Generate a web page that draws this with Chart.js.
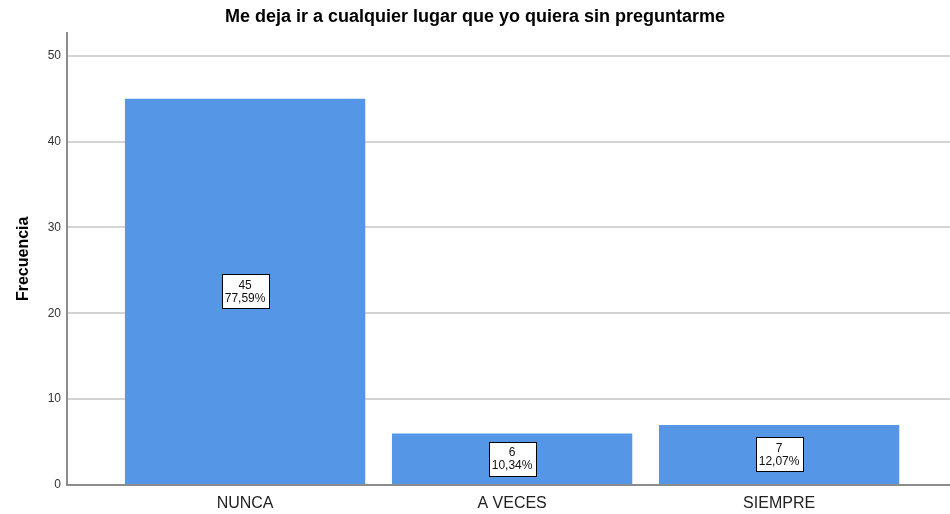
<!DOCTYPE html>
<html>
<head>
<meta charset="utf-8">
<script src="https://cdn.jsdelivr.net/npm/chart.js@4/dist/chart.umd.min.js"></script>
<style>
  html, body { margin: 0; padding: 0; background: #fff; }
  #wrap { width: 950px; height: 514px; }
</style>
</head>
<body>
<div id="wrap"><canvas id="chart"></canvas></div>
<script>
// data
const categories = ['NUNCA', 'A VECES', 'SIEMPRE'];
const counts = [45, 6, 7];
const percents = ['77,59%', '10,34%', '12,07%'];
const yTicks = [0, 10, 20, 30, 40, 50];

const FONT = '"Liberation Sans", Arial, sans-serif';

// white boxes with count + percent in the middle of each bar
const boxLabels = {
  id: 'boxLabels',
  afterDatasetsDraw(chart){
    const ctx = chart.ctx;
    const meta = chart.getDatasetMeta(0);
    ctx.save();
    ctx.font = '12px ' + FONT;
    ctx.textAlign = 'center';
    ctx.textBaseline = 'middle';
    meta.data.forEach((bar, i) => {
      const l1 = String(counts[i]);
      const l2 = percents[i];
      const w = Math.round(Math.max(ctx.measureText(l1).width, ctx.measureText(l2).width) + 6);
      const h = 34;
      const cx = bar.x;
      const cy = (bar.y + bar.base) / 2;
      const bx = Math.round(cx - w/2) + 0.5, by = Math.round(cy - h/2) + 0.5;
      ctx.fillStyle = '#fff';
      ctx.fillRect(bx, by, w, h);
      ctx.strokeStyle = '#000';
      ctx.lineWidth = 1;
      ctx.strokeRect(bx, by, w, h);
      ctx.fillStyle = '#111';
      ctx.fillText(l1, cx, cy - 6);
      ctx.fillText(l2, cx, cy + 7);
    });
    ctx.restore();
  }
};

new Chart(document.getElementById('chart'), {
  type: 'bar',
  data: {
    datasets: [{
      data: counts.map((v, i) => ({ x: i, y: v })),
      backgroundColor: '#5596e6',
      borderWidth: 0,
      barPercentage: 0.9,
      categoryPercentage: 1.0
    }]
  },
  options: {
    responsive: true,
    maintainAspectRatio: false,
    animation: false,
    layout: { padding: 0 },
    plugins: {
      legend: { display: false },
      tooltip: { enabled: false },
      title: {
        display: true,
        text: 'Me deja ir a cualquier lugar que yo quiera sin preguntarme',
        color: '#000',
        font: { family: FONT, size: 18, weight: 'bold' },
        padding: { top: 6, bottom: 5 }
      }
    },
    scales: {
      x: {
        type: 'linear',
        offset: false,
        bounds: 'data',
        min: -0.667,
        max: 2.64,
        afterBuildTicks(scale){ scale.ticks = categories.map((c, i) => ({ value: i })); },
        afterFit(scale){ scale.height = 29; },
        ticks: {
          color: '#222',
          font: { family: FONT, size: 16 },
          padding: 9,
          autoSkip: false,
          maxRotation: 0,
          callback: v => categories[v]
        },
        grid: { display: false, drawTicks: false },
        border: { display: true, color: '#8c8c8c', width: 2 }
      },
      y: {
        min: 0,
        max: 52.7,
        afterBuildTicks(scale){ scale.ticks = yTicks.map(v => ({ value: v })); },
        afterFit(scale){ scale.width = 67; },
        ticks: {
          color: '#333',
          font: { family: FONT, size: 12 },
          padding: 6
        },
        grid: { color: '#d4d4d4', lineWidth: 2, drawTicks: false },
        border: { display: true, color: '#8c8c8c', width: 2 },
        title: {
          display: true,
          text: 'Frecuencia',
          color: '#000',
          font: { family: FONT, size: 16, weight: 'bold' },
          padding: { top: 14, bottom: 4 }
        }
      }
    }
  },
  plugins: [boxLabels]
});
</script>
</body>
</html>
